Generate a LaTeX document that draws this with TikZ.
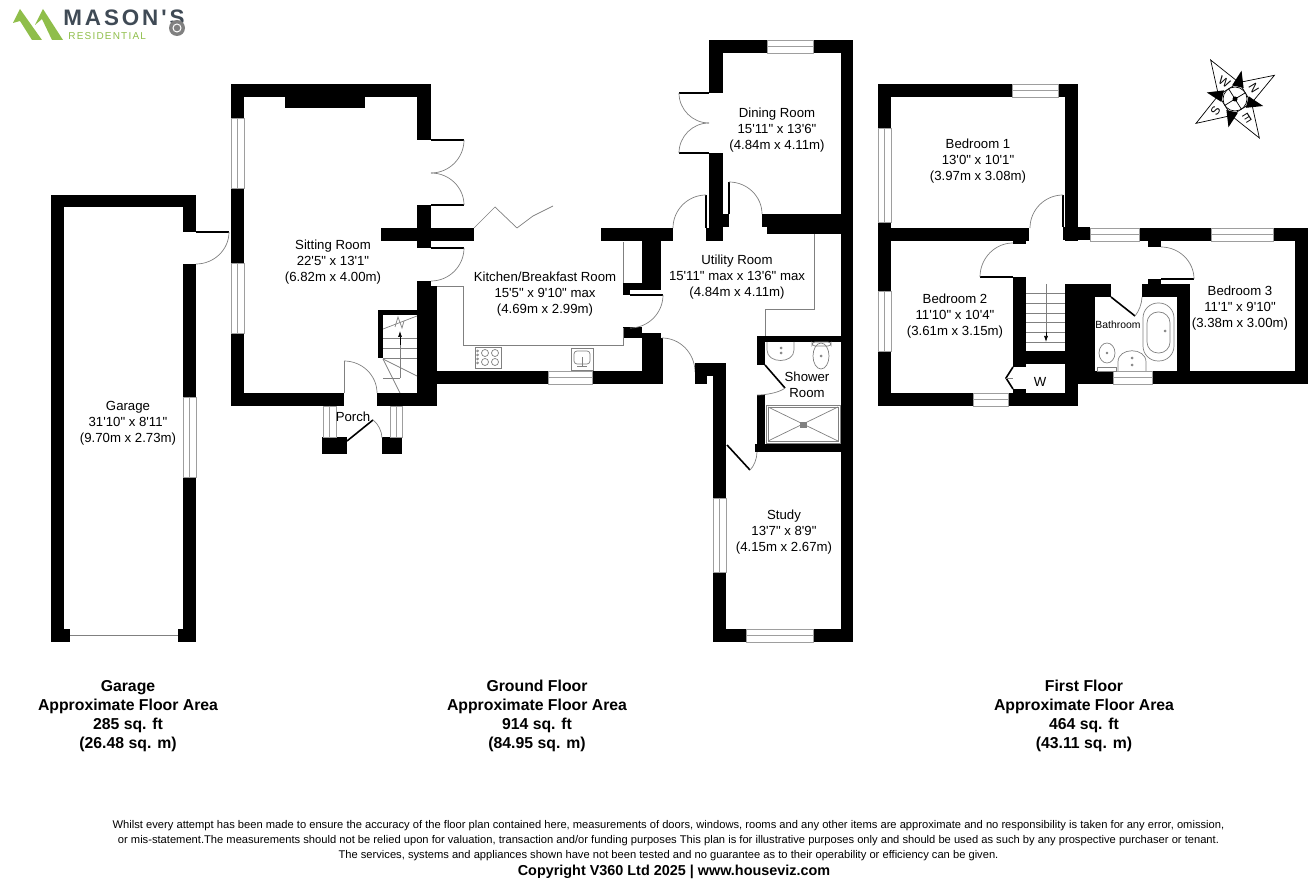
\documentclass[tikz,border=0pt]{standalone}
\usepackage{fontspec}
\setmainfont{Liberation Sans}[Ligatures=TeXOff]
\usetikzlibrary{calc,arrows.meta}
\definecolor{fixgray}{gray}{0.5}
\definecolor{glassgray}{gray}{0.62}
\definecolor{logogreen}{HTML}{8FBE4A}
\definecolor{logoslate}{HTML}{3F4A55}
% quarter swing of a door: start, corner, end
\newcommand{\swing}[6]{\draw[fix] (#1,#2) .. controls ($(#1,#2)!.55!(#3,#4)$) and ($(#5,#6)!.55!(#3,#4)$) .. (#5,#6);}
\newcommand{\winh}[4]{\draw[glass] (#1,#2) rectangle (#3,#4); \draw[glass] (#1,{(#2+#4)/2}) -- (#3,{(#2+#4)/2});}
\newcommand{\winv}[4]{\draw[glass] (#1,#2) rectangle (#3,#4); \draw[glass] ({(#1+#3)/2},#2) -- ({(#1+#3)/2},#4);}

\begin{document}
\begin{tikzpicture}[x=0.5pt,y=-0.5pt,
    wall/.style={fill=black},
    fix/.style={draw=fixgray, line width=0.35pt},
    glass/.style={draw=glassgray, fill=white, line width=0.35pt},
    leaf/.style={draw=black, line width=0.8pt},
    room/.style={align=center, font=\fontsize{6.6}{8}\selectfont, inner sep=0pt},
    area/.style={align=center, font=\fontsize{7.9}{9.5}\selectfont\bfseries, inner sep=0pt},
    note/.style={align=center, font=\fontsize{5.58}{7.5}\selectfont, inner sep=0pt}]
    \useasboundingbox (0,0) rectangle (1312,881);

    % Logo
    \fill[logogreen] (13,23) -- (20,9) -- (42,40) -- (32,40) -- (20,21) -- cycle;
    \fill[logogreen] (35,25) -- (43,9) -- (63,40) -- (52,40) -- (42,19) -- cycle;
    \node[anchor=west, inner sep=0pt, text=logoslate, font=\fontsize{11.2}{12}\selectfont\bfseries\addfontfeature{LetterSpace=13}] (logoname) at (63,18) {MASON'S};
    \node[anchor=west, inner sep=0pt, text=logogreen, font=\fontsize{5}{6}\selectfont\addfontfeature{LetterSpace=12}] (logosub) at (68,36.5) {RESIDENTIAL};
    \fill[gray] (177,28) circle (8);
    \draw[white, line width=0.5pt] (177,28) circle (4);

    % Garage
    \foreach \xa/\ya/\xb/\yb in {51/195/196/207, 51/195/64/642, 183/195/196/232, 183/264/196/397, 183/477/196/642, 51/629/70/642, 178/629/196/642}
        \fill[wall] (\xa,\ya) rectangle (\xb,\yb);
    \winv{183}{397}{196}{477}
    \draw[fix] (70,635) -- (178,635);
    \draw[leaf] (196,232) -- (229,232);
    \swing{229}{232}{229}{264}{196}{264}

    % Sitting room and porch
    \foreach \xa/\ya/\xb/\yb in {231/84/431/97, 231/84/244/118, 231/188/244/263, 231/333/244/406, 231/393/344/406, 377/393/437/406, 285/97/365/108, 417/84/431/140, 417/205/431/248, 381/228/474/241, 417/281/431/406, 417/286/437/406, 378/310/383/358, 378/310/417/315, 322/437/347/454, 382/437/402/454}
        \fill[wall] (\xa,\ya) rectangle (\xb,\yb);
    \winv{231}{118}{244}{188}
    \winv{231}{263}{244}{333}
    \winv{323}{406}{336}{437}
    \winv{390}{406}{402}{437}
    \draw[leaf] (431,140) -- (464,140);
    \draw[leaf] (431,205) -- (464,205);
    \draw[leaf] (431,248) -- (464,248);
    \swing{464}{140}{464}{173}{431}{173}
    \swing{431}{173}{464}{173}{464}{205}
    \swing{464}{248}{464}{281}{431}{281}
    \draw[fix] (344,393) -- (344,361);
    \swing{344}{361}{377}{361}{377}{393}
    \draw[leaf] (347,441) -- (373,420);
    \swing{373}{420}{382}{426}{382}{438}

    % Stairs up from the porch
    \foreach \yy in {338,348,358}
        \draw[fix] (383,\yy) -- (417,\yy);
    \draw[fix] (383,329) -- (417,316);
    \draw[fix] (383,359) -- (400,393);
    \draw[fix] (383,359) -- (417,376);
    \draw[fix] (383,378) -- (400,378);
    \draw[fix] (395,327) -- (398,317) -- (402,328) -- (404,321);
    \draw[fix] (400,378) -- (400,340);
    \draw[-{Latex[length=3pt,width=2pt]}, line width=0.35pt] (400,345) -- (400,331);

    % Bi-fold doors
    \draw[fix] (474,228) -- (495,207) -- (517,228) -- (533,216) -- (553,206);

    % Kitchen
    \foreach \xa/\ya/\xb/\yb in {601/228/673/241, 642/228/661/290, 623/283/661/290, 623/283/630/295, 623/327/642/338, 642/333/661/384, 437/371/548/384, 592/371/663/384}
        \fill[wall] (\xa,\ya) rectangle (\xb,\yb);
    \winh{548}{371}{592}{384}
    \draw[fix] (437,286) -- (463,286) -- (463,345) -- (623,345) -- (623,328);
    \draw[fix] (623,242) -- (623,283);
    \draw[leaf] (630,295) -- (663,295);
    \swing{663}{295}{663}{328}{630}{328}
    \draw[fix] (475,347) rectangle (501,368);
    \foreach \cx/\cy in {485/353, 495/353, 485/362, 495/362}
        \draw[fix] (\cx,\cy) circle (3.5);
    \foreach \cy in {351,355,359,363}
        \draw[fix] (477.5,\cy) circle (1);
    \draw[fix] (571,348) rectangle (593,370);
    \draw[fix, rounded corners=1.5pt] (574,351) rectangle (590,364);
    \draw[fix] (582,357) -- (582,367) (577,366) -- (587,366);

    % Dining room
    \foreach \xa/\ya/\xb/\yb in {709/40/767/53, 813/40/853/53, 709/40/723/93, 841/40/853/642, 709/153/723/241, 706/228/723/241, 723/214/729/227, 762/214/853/227, 767/214/841/234}
        \fill[wall] (\xa,\ya) rectangle (\xb,\yb);
    \winh{767}{40}{813}{53}
    \draw[leaf] (679,93) -- (709,93);
    \draw[leaf] (679,153) -- (709,153);
    \swing{679}{93}{679}{123}{709}{123}
    \swing{709}{123}{679}{123}{679}{153}
    \draw[leaf] (706,195) -- (706,228);
    \swing{706}{195}{673}{195}{673}{228}
    \draw[leaf] (729,182) -- (729,214);
    \swing{729}{182}{762}{182}{762}{214}

    % Utility room
    \draw[fix] (814,234) -- (814,309) -- (765,309) -- (765,336);
    \draw[leaf] (662,338) -- (662,372);
    \swing{662}{338}{695}{338}{695}{372}

    % Shower room
    \foreach \xa/\ya/\xb/\yb in {757/336/841/342, 757/336/765/365, 757/395/765/445, 755/444/841/452}
        \fill[wall] (\xa,\ya) rectangle (\xb,\yb);
    \draw[leaf] (765,365) -- (785,388);
    \swing{785}{388}{777}{395}{757}{395}
    \draw[fix] (766,405) rectangle (840,443);
    \draw[fix] (768,407) rectangle (838,441);
    \draw[fix] (768,407) -- (838,441) (768,441) -- (838,407);
    \draw[fix, fill=gray] (800,422) rectangle (806,427);
    \draw[fix] (767,342) -- (767,350) .. controls (767,364) and (794,364) .. (794,350) -- (794,342);
    \draw[fix] (781,348) circle (1) (781,353) circle (1);
    \draw[fix] (821,356) ellipse (8 and 13);
    \draw[fix, rounded corners=1.5pt] (812,342) rectangle (831,346);
    \draw[fix] (821,356) circle (1);

    % Study
    \foreach \xa/\ya/\xb/\yb in {695/363/726/376, 695/363/707/384, 713/363/726/498, 713/572/726/642, 713/629/746/642, 813/629/853/642}
        \fill[wall] (\xa,\ya) rectangle (\xb,\yb);
    \winv{713}{498}{726}{572}
    \winh{746}{629}{813}{642}
    \draw[leaf] (727,445) -- (750,470);
    \swing{750}{470}{757}{464}{757}{452}

    % First floor walls
    \foreach \xa/\ya/\xb/\yb in {878/84/1012/97, 1058/84/1078/97, 878/84/891/128, 878/222/891/291, 878/351/891/406, 1065/84/1078/241, 878/228/1029/241, 1013/241/1026/244, 1063/227/1090/240, 878/393/973/406, 1008/393/1078/406, 1013/277/1026/367, 1013/389/1026/393, 1026/351/1065/364, 1065/284/1095/384, 1065/384/1078/406, 1065/284/1111/297, 1142/284/1190/297, 1177/284/1190/384, 1078/371/1113/384, 1152/371/1308/384, 1139/228/1211/241, 1273/228/1308/241, 1295/228/1308/384, 1148/241/1161/247, 1148/279/1161/284}
        \fill[wall] (\xa,\ya) rectangle (\xb,\yb);
    \winh{1012}{84}{1058}{97}
    \winv{878}{128}{891}{222}
    \winv{878}{291}{891}{351}
    \winh{973}{393}{1008}{406}
    \winh{1090}{228}{1139}{241}
    \winh{1211}{228}{1273}{241}
    \winh{1113}{371}{1152}{384}
    \draw[leaf] (1063,195) -- (1063,227);
    \swing{1063}{195}{1030}{195}{1030}{228}
    \draw[leaf] (980,277) -- (1013,277);
    \swing{980}{277}{980}{243}{1013}{243}
    \draw[leaf] (1161,279) -- (1194,279);
    \swing{1161}{247}{1194}{247}{1194}{279}
    \draw[leaf] (1111,297) -- (1135,316);
    \swing{1135}{316}{1142}{308}{1142}{297}
    \draw[leaf] (1013,367) -- (1006,378) -- (1013,389);
    \draw[fix] (1006,378) -- (1013,378);

    % Stairs down
    \foreach \yy in {293,303,313,322,332,342}
        \draw[fix] (1026,\yy) -- (1065,\yy);
    \draw[fix] (1046,284) -- (1046,335);
    \draw[-{Latex[length=3pt,width=2pt]}, line width=0.35pt] (1046,332) -- (1046,342);

    % Bathroom fittings
    \draw[fix, rounded corners=7.5pt] (1143,303) rectangle (1174,361);
    \draw[fix, rounded corners=5.5pt] (1147,312) rectangle (1170,353);
    \draw[fix] (1165,331) circle (1);
    \draw[fix] (1107,353) ellipse (8 and 10);
    \draw[fix] (1097,367) rectangle (1116,371);
    \draw[fix] (1107,353) circle (0.8);
    \draw[fix] (1118,371) -- (1118,362) .. controls (1118,347) and (1146,347) .. (1146,362) -- (1146,371);
    \draw[fix] (1132,358) circle (1) (1132,365) circle (1);

    % Compass
    \begin{scope}[shift={(1235,99)}]
        \foreach \ang in {-31,58,148,238}
            \draw[black, fill=white, line width=0.35pt] (\ang-45:17) -- (\ang:46) -- (\ang+45:17) -- cycle;
        \foreach \ang in {-31,58,148,238}
            \fill[black] (\ang+20:14) -- (\ang+45:29) -- (\ang+70:14) -- cycle;
        \draw[black, fill=white, line width=0.35pt] (0,0) circle (12);
        \foreach \ang in {-31,58,148,238}
            \draw[black, line width=0.35pt] (0,0) -- (\ang:12);
        \fill[black] (0,0) circle (2.5);
        \node[inner sep=0pt, rotate=-59, font=\fontsize{6}{6}\selectfont] (compassn) at (-31:22) {N};
        \node[inner sep=0pt, rotate=-148, font=\fontsize{6}{6}\selectfont] (compasse) at (58:23) {E};
        \node[inner sep=0pt, rotate=58, font=\fontsize{6}{6}\selectfont] (compasss) at (148:23) {S};
        \node[inner sep=0pt, rotate=-32, font=\fontsize{6}{6}\selectfont] (compassw) at (238:20) {W};
    \end{scope}

    % Room labels
    \node[room] (garage) at (128,423.5) {Garage\\31'10" x 8'11"\\(9.70m x 2.73m)};
    \node[room] (sitting) at (333,262) {Sitting Room\\22'5" x 13'1"\\(6.82m x 4.00m)};
    \node[room] (kitchen) at (545,294) {Kitchen/Breakfast Room\\15'5" x 9'10" max\\(4.69m x 2.99m)};
    \node[room] (dining) at (777,130.5) {Dining Room\\15'11" x 13'6"\\(4.84m x 4.11m)};
    \node[room] (utility) at (737,277) {Utility Room\\15'11" max x 13'6" max\\(4.84m x 4.11m)};
    \node[room] (shower) at (807,384.5) {Shower\\Room};
    \node[room] (study) at (784,532) {Study\\13'7" x 8'9"\\(4.15m x 2.67m)};
    \node[room] (porch) at (353,417) {Porch};
    \node[room] (bedone) at (978,161.5) {Bedroom 1\\13'0" x 10'1"\\(3.97m x 3.08m)};
    \node[room] (bedtwo) at (955,316.5) {Bedroom 2\\11'10" x 10'4"\\(3.61m x 3.15m)};
    \node[room] (bedthree) at (1240,308.5) {Bedroom 3\\11'1" x 9'10"\\(3.38m x 3.00m)};
    \node[room, font=\fontsize{5.2}{6}\selectfont] (bathroom) at (1118,325) {Bathroom};
    \node[room] (wardrobe) at (1040,382) {W};

    % Floor areas
    \node[area] (garagearea) at (128,716) {Garage\\Approximate Floor Area\\285 sq. ft\\(26.48 sq. m)};
    \node[area] (groundarea) at (537,716) {Ground Floor\\Approximate Floor Area\\914 sq. ft\\(84.95 sq. m)};
    \node[area] (firstarea) at (1084,716) {First Floor\\Approximate Floor Area\\464 sq. ft\\(43.11 sq. m)};

    % Footer
    \node[note] (disclaimer) at (668.5,841) {Whilst every attempt has been made to ensure the accuracy of the floor plan contained here, measurements of doors, windows, rooms and any other items are approximate and no responsibility is taken for any error, omission,\\or mis-statement.The measurements should not be relied upon for valuation, transaction and/or funding purposes This plan is for illustrative purposes only and should be used as such by any prospective purchaser or tenant.\\The services, systems and appliances shown have not been tested and no guarantee as to their operability or efficiency can be given.};
    \node[inner sep=0pt, font=\fontsize{7.2}{8}\selectfont\bfseries] (copyright) at (674,871.5) {Copyright V360 Ltd 2025 | www.houseviz.com};
\end{tikzpicture}
\end{document}
